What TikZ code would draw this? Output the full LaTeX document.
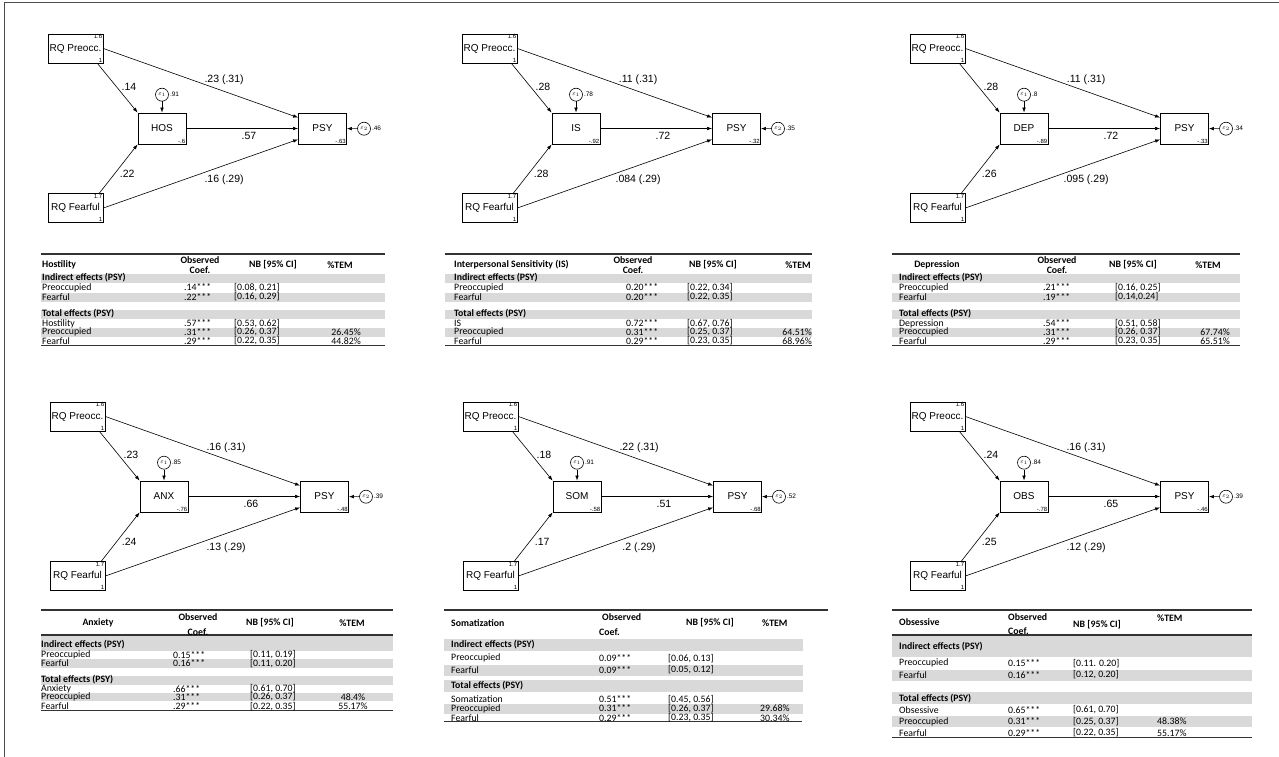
\documentclass[tikz,border=0pt]{standalone}
\usepackage{fontspec}
\setmainfont{Carlito}
\newfontfamily\semfont{Liberation Sans}
\usepackage{tikz}
\usetikzlibrary{arrows.meta}

% one path model: nodes, then paths
\newcommand\semnodes[5]{
  \node[obsbox, label={[cornernum,anchor=north east]north east:1.6}, label={[cornernum,anchor=south east]south east:1}] (pre) at (75.5,48.5) {RQ Preocc.};
  \node[obsbox, label={[cornernum,anchor=north east]north east:1.7}, label={[cornernum,anchor=south east]south east:1}] (fea) at (75.5,208) {RQ Fearful};
  \node[medbox, label={[cornernum,anchor=south east]south east:#2}] (med) at (162,128.5) {#1};
  \node[medbox, label={[cornernum,anchor=south east]south east:#3}] (psy) at (322.5,128.5) {PSY};
  \node[errnode, label={[errvar]east:#4}] (e1) at (162,94.7) {$\varepsilon_1$};
  \node[errnode, label={[errvar]east:#5}] (e2) at (364,128.7) {$\varepsilon_2$};
}
\newcommand\sempaths[5]{
  \draw[semarrow] ([xshift=-6pt]pre.south east) -- node[coef, pos=0.47, right=3pt] {#1} (med.north west);
  \draw[semarrow] (pre.east) -- node[coef, pos=0.62, above=4pt] {#2} ([yshift=-5pt]psy.north west);
  \draw[semarrow] (med.east) -- node[coef, pos=0.56, below=1.5pt] {#3} (psy.west);
  \draw[semarrow] ([xshift=-4pt]fea.north east) -- node[coef, pos=0.4, right=3pt] {#4} (med.south west);
  \draw[semarrow] (fea.east) -- node[coef, pos=0.62, below=7pt] {#5} ([yshift=5pt]psy.south west);
  \draw[semarrow] (e1) -- (med);
  \draw[semarrow] (e2) -- (psy);
}
% one table row: name, y, label, coef, ci, tem
\newcommand\tabrow[6]{
  \node[cell] (#1l) at (\tabL,#2) {#3};
  \node[cell] (#1c) at (\tabC,#2) {#4};
  \node[cell] (#1n) at (\tabN,#2) {#5};
  \node[cell, temcol] (#1t) at (\tabT,#2) {#6};
}

\tikzset{
  >={Latex[length=5pt,width=3.6pt]},
  varbox/.style={draw, line width=0.8pt, inner sep=0pt, font=\semfont\fontsize{10}{12}\selectfont},
  obsbox/.style={varbox, minimum width=55pt, minimum height=29pt},
  medbox/.style={varbox, minimum width=48pt, minimum height=31pt},
  cornernum/.style={font=\semfont\fontsize{6}{6}\selectfont, inner sep=1pt},
  errnode/.style={draw, circle, line width=0.6pt, minimum size=13pt, inner sep=0pt, font=\fontsize{6}{6}\selectfont},
  errvar/.style={font=\semfont\fontsize{6.5}{7}\selectfont, inner sep=1pt},
  coef/.style={font=\semfont\fontsize{10.5}{12}\selectfont, inner sep=2pt},
  semarrow/.style={->, line width=0.6pt},
  cell/.style={font=\fontsize{9.8}{10}\selectfont, inner sep=0pt, anchor=west},
  headcell/.style={cell, font=\bfseries\fontsize{9.8}{10}\selectfont},
  temcol/.style={anchor=east},
  tabrule/.style={line width=1.3pt, black!80},
  band/.style={fill=gray!30}
}

\begin{document}
\begin{tikzpicture}[x=1pt, y=-1pt]
\useasboundingbox (0,0) rectangle (1279,757);
\draw[line width=1pt, black!70] (4,757) -- (4,3) -- (1279,3);

% ---- path models
\begin{scope}[name prefix=hos-]
  \semnodes{HOS}{-.6}{-.63}{.91}{.46}
  \sempaths{.14}{.23 (.31)}{.57}{.22}{.16 (.29)}
\end{scope}
\begin{scope}[shift={(414,0)}, name prefix=is-]
  \semnodes{IS}{-.92}{-.32}{.78}{.35}
  \sempaths{.28}{.11 (.31)}{.72}{.28}{.084 (.29)}
\end{scope}
\begin{scope}[shift={(862,0)}, name prefix=dep-]
  \semnodes{DEP}{-.89}{-.33}{.8}{.34}
  \sempaths{.28}{.11 (.31)}{.72}{.26}{.095 (.29)}
\end{scope}
\begin{scope}[shift={(2,368)}, name prefix=anx-]
  \semnodes{ANX}{-.76}{-.48}{.85}{.39}
  \sempaths{.23}{.16 (.31)}{.66}{.24}{.13 (.29)}
\end{scope}
\begin{scope}[shift={(415,368)}, name prefix=som-]
  \semnodes{SOM}{-.58}{-.68}{.91}{.52}
  \sempaths{.18}{.22 (.31)}{.51}{.17}{.2 (.29)}
\end{scope}
\begin{scope}[shift={(862,368)}, name prefix=obs-]
  \semnodes{OBS}{-.78}{-.46}{.84}{.39}
  \sempaths{.24}{.16 (.31)}{.65}{.25}{.12 (.29)}
\end{scope}

% ---- tables, top row
\begin{scope}[name prefix=t1-, temcol/.style={anchor=east}]
  \def\tabL{42}\def\tabC{184}\def\tabN{234}\def\tabT{361}
  \fill[band] (41,273.5) rectangle (385,282.5);
  \fill[band] (41,292.5) rectangle (385,301.5);
  \fill[band] (41,309.5) rectangle (385,318.5);
  \fill[band] (41,327.5) rectangle (385,336.5);
  \draw[tabrule] (41,254) -- (385,254);
  \draw[tabrule] (41,345.5) -- (385,345.5);
  \node[headcell] (hl) at (42,265) {Hostility};
  \node[headcell, anchor=center, align=center] (hc) at (200,265) {Observed\\Coef.};
  \node[headcell, anchor=center] (hn) at (273,265) {NB [95\% CI]};
  \node[headcell, anchor=center] (ht) at (340,265) {\%TEM};
  \node[headcell] (s1) at (42,278) {Indirect effects (PSY)};
  \tabrow{r1}{287.5}{Preoccupied}{.14***}{[0.08, 0.21]}{}
  \tabrow{r2}{297}{Fearful}{.22***}{[0.16, 0.29]}{}
  \node[headcell] (s2) at (42,314) {Total effects (PSY)};
  \tabrow{r3}{323.5}{Hostility}{.57***}{[0.53, 0.62]}{}
  \tabrow{r4}{332}{Preoccupied}{.31***}{[0.26, 0.37]}{26.45\%}
  \tabrow{r5}{341}{Fearful}{.29***}{[0.22, 0.35]}{44.82\%}
\end{scope}

\begin{scope}[name prefix=t2-, temcol/.style={anchor=east}]
  \def\tabL{454}\def\tabC{626}\def\tabN{687}\def\tabT{812}
  \fill[band] (445,273.5) rectangle (812,282.5);
  \fill[band] (445,292.5) rectangle (812,301.5);
  \fill[band] (445,309.5) rectangle (812,318.5);
  \fill[band] (445,327.5) rectangle (812,336.5);
  \draw[tabrule] (445,254) -- (812,254);
  \draw[tabrule] (445,345.5) -- (812,345.5);
  \node[headcell] (hl) at (454,265) {Interpersonal Sensitivity (IS)};
  \node[headcell, anchor=center, align=center] (hc) at (633,265) {Observed\\Coef.};
  \node[headcell, anchor=center] (hn) at (713,265) {NB [95\% CI]};
  \node[headcell, anchor=center] (ht) at (798,265) {\%TEM};
  \node[headcell] (s1) at (454,278) {Indirect effects (PSY)};
  \tabrow{r1}{287.5}{Preoccupied}{0.20***}{[0.22, 0.34]}{}
  \tabrow{r2}{297}{Fearful}{0.20***}{[0.22, 0.35]}{}
  \node[headcell] (s2) at (454,314) {Total effects (PSY)};
  \tabrow{r3}{323.5}{IS}{0.72***}{[0.67, 0.76]}{}
  \tabrow{r4}{332}{Preoccupied}{0.31***}{[0.25, 0.37]}{64.51\%}
  \tabrow{r5}{341}{Fearful}{0.29***}{[0.23, 0.35]}{68.96\%}
\end{scope}

\begin{scope}[name prefix=t3-, temcol/.style={anchor=east}]
  \def\tabL{899}\def\tabC{1043}\def\tabN{1115}\def\tabT{1230}
  \fill[band] (892,273.5) rectangle (1240,282.5);
  \fill[band] (892,292.5) rectangle (1240,301.5);
  \fill[band] (892,309.5) rectangle (1240,318.5);
  \fill[band] (892,327.5) rectangle (1240,336.5);
  \draw[tabrule] (892,254) -- (1240,254);
  \draw[tabrule] (892,345.5) -- (1240,345.5);
  \node[headcell, anchor=center] (hl) at (937,265) {Depression};
  \node[headcell, anchor=center, align=center] (hc) at (1057,265) {Observed\\Coef.};
  \node[headcell, anchor=center] (hn) at (1133,265) {NB [95\% CI]};
  \node[headcell, anchor=center] (ht) at (1208,265) {\%TEM};
  \node[headcell] (s1) at (899,278) {Indirect effects (PSY)};
  \tabrow{r1}{287.5}{Preoccupied}{.21***}{[0.16, 0.25]}{}
  \tabrow{r2}{297}{Fearful}{.19***}{[0.14,0.24]}{}
  \node[headcell] (s2) at (899,314) {Total effects (PSY)};
  \tabrow{r3}{323.5}{Depression}{.54***}{[0.51, 0.58]}{}
  \tabrow{r4}{332}{Preoccupied}{.31***}{[0.26, 0.37]}{67.74\%}
  \tabrow{r5}{341}{Fearful}{.29***}{[0.23, 0.35]}{65.51\%}
\end{scope}

% ---- tables, bottom row
\begin{scope}[name prefix=t4-, temcol/.style={anchor=center}]
  \def\tabL{41}\def\tabC{173}\def\tabN{250}\def\tabT{353}
  \fill[band] (41,635.5) rectangle (393,650.5);
  \fill[band] (41,659) rectangle (393,667.5);
  \fill[band] (41,675.5) rectangle (393,684.5);
  \fill[band] (41,692.5) rectangle (393,701);
  \draw[tabrule] (41,610) -- (393,610);
  \draw[tabrule] (41,635) -- (393,635);
  \draw[tabrule] (41,710.5) -- (393,710.5);
  \node[headcell, anchor=center] (hl) at (98,623) {Anxiety};
  \node[headcell, anchor=center] (hc1) at (198,617) {Observed};
  \node[headcell, anchor=center] (hc2) at (198,632) {Coef.};
  \node[headcell, anchor=center] (hn) at (270,623) {NB [95\% CI]};
  \node[headcell, anchor=center] (ht) at (352,623) {\%TEM};
  \node[headcell] (s1) at (41,645) {Indirect effects (PSY)};
  \tabrow{r1}{655}{Preoccupied}{0.15***}{[0.11, 0.19]}{}
  \tabrow{r2}{663.3}{Fearful}{0.16***}{[0.11, 0.20]}{}
  \node[headcell] (s2) at (41,680) {Total effects (PSY)};
  \tabrow{r3}{689}{Anxiety}{.66***}{[0.61, 0.70]}{}
  \tabrow{r4}{696.7}{Preoccupied}{.31***}{[0.26, 0.37]}{48.4\%}
  \tabrow{r5}{706.5}{Fearful}{.29***}{[0.22, 0.35]}{55.17\%}
\end{scope}

\begin{scope}[name prefix=t5-, temcol/.style={anchor=west}]
  \def\tabL{451}\def\tabC{599}\def\tabN{668}\def\tabT{760}
  \fill[band] (444,638.5) rectangle (803,651);
  \fill[band] (444,664.5) rectangle (803,675.5);
  \fill[band] (444,680) rectangle (803,691.5);
  \fill[band] (444,703.5) rectangle (803,714);
  \draw[tabrule] (444,610) -- (828,610);
  \draw[tabrule] (444,721.7) -- (802,721.7);
  \node[headcell] (hl) at (451,623) {Somatization};
  \node[headcell] (hc1) at (602,617) {Observed};
  \node[headcell] (hc2) at (599,632) {Coef.};
  \node[headcell, anchor=center] (hn) at (710,623) {NB [95\% CI]};
  \node[headcell] (ht) at (762,623) {\%TEM};
  \node[headcell] (s1) at (451,645) {Indirect effects (PSY)};
  \tabrow{r1}{658.3}{Preoccupied}{0.09***}{[0.06, 0.13]}{}
  \tabrow{r2}{670}{Fearful}{0.09***}{[0.05, 0.12]}{}
  \node[headcell] (s2) at (451,685.7) {Total effects (PSY)};
  \tabrow{r3}{699.5}{Somatization}{0.51***}{[0.45, 0.56]}{}
  \tabrow{r4}{708.5}{Preoccupied}{0.31***}{[0.26, 0.37]}{29.68\%}
  \tabrow{r5}{717.7}{Fearful}{0.29***}{[0.23, 0.35]}{30.34\%}
\end{scope}

\begin{scope}[name prefix=t6-, temcol/.style={anchor=west}]
  \def\tabL{899}\def\tabC{1008}\def\tabN{1073}\def\tabT{1157}
  \fill[band] (892,635.5) rectangle (1252,656.5);
  \fill[band] (892,669.5) rectangle (1252,680.5);
  \fill[band] (892,691.5) rectangle (1252,704);
  \fill[band] (892,716) rectangle (1252,727);
  \draw[tabrule] (892,610) -- (1252,610);
  \draw[tabrule] (892,635) -- (1252,635);
  \draw[tabrule] (892,737.3) -- (1252,737.3);
  \node[headcell] (hl) at (899,622) {Obsessive};
  \node[headcell] (hc1) at (1008,617) {Observed};
  \node[headcell] (hc2) at (1008,631) {Coef.};
  \node[headcell] (hn) at (1073,625) {NB [95\% CI]};
  \node[headcell] (ht) at (1157,618) {\%TEM};
  \node[headcell] (s1) at (899,646.7) {Indirect effects (PSY)};
  \tabrow{r1}{663.3}{Preoccupied}{0.15***}{[0.11. 0.20]}{}
  \tabrow{r2}{675}{Fearful}{0.16***}{[0.12, 0.20]}{}
  \node[headcell] (s2) at (899,698.3) {Total effects (PSY)};
  \tabrow{r3}{710}{Obsessive}{0.65***}{[0.61, 0.70]}{}
  \tabrow{r4}{721.5}{Preoccupied}{0.31***}{[0.25, 0.37]}{48.38\%}
  \tabrow{r5}{732.7}{Fearful}{0.29***}{[0.22, 0.35]}{55.17\%}
\end{scope}
\end{tikzpicture}
\end{document}
